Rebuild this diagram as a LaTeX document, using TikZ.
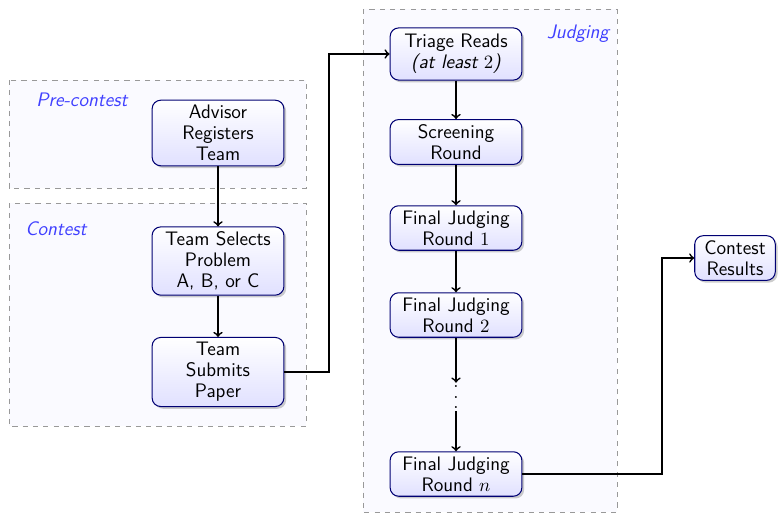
\documentclass[tikz,border=0pt]{standalone}
\usetikzlibrary{shadows}
\begin{document}
\begin{tikzpicture}[x=0.0205cm,y=-0.0205cm,
  every node/.style={font=\sffamily\fontsize{11.4}{12.3}\selectfont},
  stage/.style={draw=blue!45!black, semithick, rounded corners=5pt,
    top color=white, bottom color=blue!12,
    drop shadow={opacity=0.4,shadow xshift=1.3pt,shadow yshift=-1.3pt},
    align=center, minimum width=2.7cm, inner sep=2.8pt},
  small/.style={stage, minimum width=1.65cm},
  group/.style={draw=gray!80, dashed, fill=blue!2},
  grouplabel/.style={text=blue!75, font=\sffamily\itshape\fontsize{11.4}{12.3}\selectfont},
  flow/.style={->, line width=1pt}]
\useasboundingbox (0,0) rectangle (780,514);
% groups
\draw[group] (9,80) rectangle (306,188);
\draw[group] (9,203) rectangle (306,426);
\draw[group] (363,9) rectangle (617,512);
\node[grouplabel] (lpre) at (82,100) {Pre-contest};
\node[grouplabel] (lcon) at (56,229) {Contest};
\node[grouplabel] (ljud) at (578,34) {Judging};
% nodes
\node[stage] (adv) at (218,133) {Advisor\\Registers\\Team};
\node[stage] (sel) at (218,261) {Team Selects\\Problem\\A, B, or C};
\node[stage] (sub) at (218,372) {Team\\Submits\\Paper};
\node[stage, minimum height=1.07cm] (tri) at (456,54) {Triage Reads\\\textit{(at least $2$)}};
\node[stage] (scr) at (456,142) {Screening\\Round};
\node[stage] (fj1) at (456,228) {Final Judging\\Round $1$};
\node[stage] (fj2) at (456,315) {Final Judging\\Round $2$};
\node[inner xsep=2pt, inner ysep=1.5pt] (dots) at (456,397) {\vbox{\baselineskip6.1pt\lineskiplimit0pt\hbox{$.$}\hbox{$.$}\hbox{$.$}}};
\node[stage] (fjn) at (456,474) {Final Judging\\Round $n$};
\node[small] (res) at (735,258) {Contest\\Results};
% connectors
\coordinate (j1) at (329,372);
\coordinate (j2) at (662,474);
\draw[flow] (adv) -- (sel);
\draw[flow] (sel) -- (sub);
\draw[flow] (sub.east) -- (j1) |- (tri.west);
\draw[flow] (tri) -- (scr);
\draw[flow] (scr) -- (fj1);
\draw[flow] (fj1) -- (fj2);
\draw[flow] (fj2) -- (dots);
\draw[flow] (dots) -- (fjn);
\draw[flow] (fjn.east) -- (j2) |- (res.west);
\end{tikzpicture}
\end{document}
